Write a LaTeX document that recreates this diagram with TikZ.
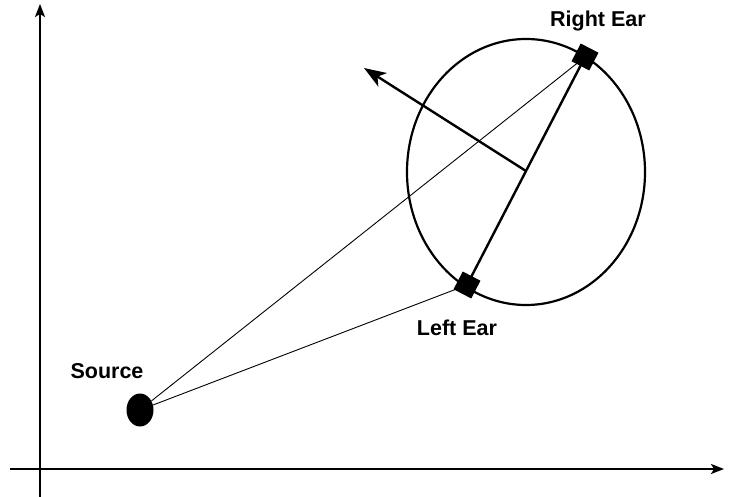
\documentclass[tikz,border=0pt]{standalone}
\usepackage{fontspec}
\setmainfont{Liberation Sans}
\usetikzlibrary{arrows.meta,shapes.geometric,calc}
\begin{document}
\begin{tikzpicture}[x=1pt,y=-1pt,
  axis/.style={line width=2pt,-{Stealth[length=13pt,width=10pt,inset=3pt]}},
  earbox/.style={draw=none,fill=black,minimum size=20pt,inner sep=0pt,rotate=62.6},
  lbl/.style={font=\fontsize{21.5}{25}\selectfont\bfseries,inner sep=0pt},
  thinline/.style={line width=0.9pt},
  thick line/.style={line width=2.4pt}]
\useasboundingbox (0,0) rectangle (734,497);
% axes
\coordinate (yb) at (40,497);
\coordinate (yt) at (40,4);
\coordinate (xl) at (10,469);
\coordinate (xr) at (724,469);
\draw[axis] (yb) -- (yt);
\draw[axis] (xl) -- (xr);
% head
\node[draw,ellipse,line width=2.2pt,minimum width=238pt,minimum height=266pt,inner sep=0pt] (head) at (526,172) {};
% ears
\node[earbox] (re) at (585,57) {};
\node[earbox] (le) at (467,285) {};
% source
\node[ellipse,fill=black,minimum width=27pt,minimum height=33pt,inner sep=0pt] (src) at (140,410) {};
% lines
\draw[thinline] (src) -- (re.center);
\draw[thinline] (src) -- (le.center);
\draw[thick line] (le.center) -- (re.center);
\coordinate (mid) at ($(le.center)!0.5!(re.center)$);
\coordinate (tip) at (364,68);
\draw[thick line,-{Stealth[length=22pt,width=16pt,inset=6pt]}] (mid) -- (tip);
% labels
\node[lbl] (rl) at (598,21) {Right Ear};
\node[lbl] (ll) at (457,328) {Left Ear};
\node[lbl] (sl) at (107,371) {Source};
\end{tikzpicture}
\end{document}
